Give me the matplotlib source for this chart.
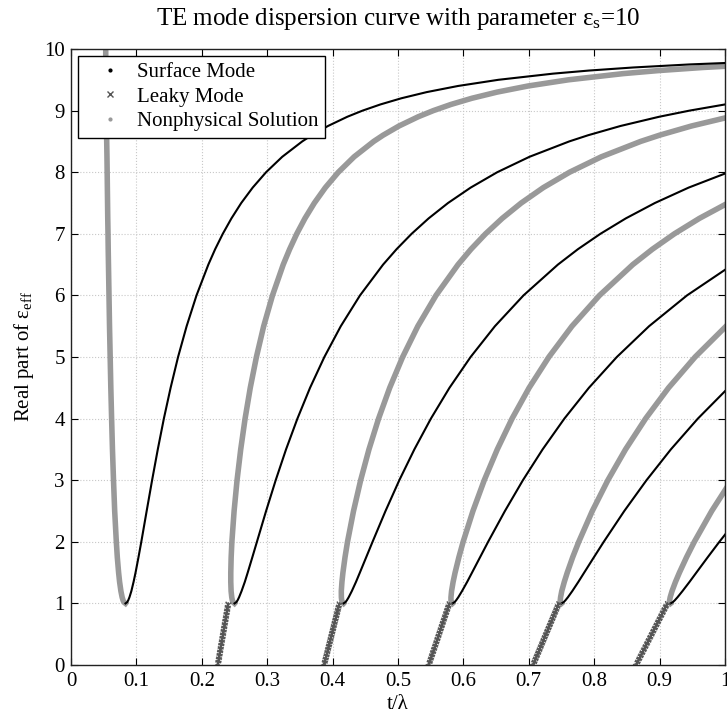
import matplotlib
matplotlib.use('Agg')
import matplotlib.pyplot as plt
import matplotlib.patheffects as pe
from matplotlib.lines import Line2D

plt.rcParams['font.family'] = ['Liberation Serif', 'DejaVu Serif']
plt.rcParams['font.size'] = 15
plt.rcParams['mathtext.fontset'] = 'custom'
plt.rcParams['mathtext.rm'] = 'Liberation Serif'
plt.rcParams['mathtext.it'] = 'Liberation Serif:italic'

eps_eff = [1.0, 1.02, 1.05, 1.1, 1.2, 1.35, 1.5, 1.75, 2.0, 2.5, 3.0, 3.5, 4.0, 4.5, 5.0, 5.5, 6.0,
           6.5, 6.75, 7.0, 7.25, 7.5, 7.75, 8.0, 8.25, 8.5, 8.6, 8.75, 8.9, 9.0, 9.1, 9.2, 9.3, 9.4,
           9.5, 9.6, 9.65, 9.7, 9.75, 9.8, 9.85, 9.9, 10.0]

# surface modes (t/lambda), black lines
surf_0 = [.0833, .0859, .0875, .0894, .0923, .0957, .0987, .1032, .1075, .1157, .1240, .1327, .1420,
          .1523, .1637, .1768, .1919, .2100, .2204, .2321, .2453, .2603, .2778, .2983, .3230, .3536,
          .3681, .3929, .4225, .4459, .4731, .5051, .5438, .5919, .6535, .7371, .7918, .8596, .9467,
          1.0648]
surf_1 = [.2500, .2528, .2547, .2570, .2608, .2658, .2702, .2773, .2843, .2983, .3130, .3288, .3462,
          .3655, .3874, .4125, .4419, .4772, .4978, .5208, .5468, .5765, .6111, .6518, .7010, .7619,
          .7907, .8401, .8993, .9459, 1.0001]
surf_2 = [.4167, .4196, .4218, .4246, .4294, .4358, .4417, .4514, .4611, .4809, .5020, .5250, .5503,
          .5787, .6110, .6482, .6919, .7445, .7751, .8095, .8483, .8928, .9444, 1.0054]
surf_3 = [.5833, .5865, .5889, .5922, .5979, .6058, .6132, .6255, .6378, .6635, .6910, .7211, .7544,
          .7919, .8346, .8839, .9419, 1.0118]
surf_4 = [.7500, .7533, .7560, .7598, .7665, .7758, .7847, .7996, .8146, .8460, .8800, .9172, .9585,
          1.0051]
surf_5 = [.9167, .9202, .9232, .9274, .9350, .9458, .9562, .9736, .9914, 1.0286]

# nonphysical solutions (t/lambda), thick grey lines
nonphys_0 = [.0833, .0809, .0796, .0782, .0763, .0743, .0728, .0708, .0693, .0668, .0650, .0634, .0621,
             .0609, .0599, .0589, .0581, .0573, .0569, .0566, .0562, .0559, .0556, .0553, .0550, .0546,
             .0545, .0543, .0542, .0541, .0540, .0539, .0538, .0536, .0536, .0534, .0534, .0533, .0533,
             .0532, .0532, .0531, .0531]
nonphys_1 = [.2500, .2478, .2467, .2458, .2448, .2443, .2443, .2449, .2460, .2494, .2539, .2595, .2662,
             .2741, .2835, .2946, .3081, .3245, .3343, .3452, .3577, .3721, .3889, .4088, .4329, .4629,
             .4771, .5015, .5309, .5541, .5810, .6129, .6514, .6991, .7607, .8440, .8986, .9662, 1.0533]
nonphys_2 = [.4167, .4146, .4139, .4134, .4133, .4143, .4158, .4190, .4228, .4320, .4429, .4556, .4703,
             .4873, .5071, .5303, .5581, .5918, .6116, .6339, .6593, .6884, .7222, .7624, .8109, .8711,
             .8997, .9487, 1.0077]
nonphys_3 = [.5833, .5815, .5810, .5810, .5819, .5843, .5873, .5931, .5996, .6146, .6319, .6518, .6744,
             .7005, .7307, .7660, .8081, .8590, .8890, .9226, .9608, 1.0046]
nonphys_4 = [.7500, .7483, .7481, .7486, .7504, .7543, .7588, .7671, .7764, .7971, .8209, .8479, .8786,
             .9137, .9543, 1.0017]
nonphys_5 = [.9167, .9152, .9153, .9162, .9190, .9243, .9303, .9412, .9531, .9797, 1.0099]

# leaky modes: t/lambda at Re(eps_eff)=0 and at Re(eps_eff)=1
leaky_eps = [0.0, 1.0]
leaky_start = [0.2245, 0.387, 0.547, 0.7065, 0.864]
leaky_end = [0.2405, 0.4105, 0.5785, 0.746, 0.912]

x_ticks = [0, 0.1, 0.2, 0.3, 0.4, 0.5, 0.6, 0.7, 0.8, 0.9, 1]
x_tick_labels = ['0', '0.1', '0.2', '0.3', '0.4', '0.5', '0.6', '0.7', '0.8', '0.9', '1']
y_ticks = list(range(0, 11))

surface_modes = [surf_0, surf_1, surf_2, surf_3, surf_4, surf_5]
nonphys_modes = [nonphys_0, nonphys_1, nonphys_2, nonphys_3, nonphys_4, nonphys_5]

fig = plt.figure(figsize=(7.27, 7.14), dpi=100)
ax = fig.add_axes([71 / 727, 49 / 714, 654 / 727, 616 / 714])

for t in nonphys_modes:
    ax.plot(t, eps_eff[:len(t)], color='#999999', lw=4, solid_joinstyle='round', zorder=2)

for t in surface_modes:
    ax.plot(t, eps_eff[:len(t)], color='k', lw=1.5, zorder=3)

# chain of small crosses along each leaky branch
cross = [pe.withTickedStroke(angle=a, spacing=2.4, length=1.0) for a in (45, -135, 135, -45)]
for t0, t1 in zip(leaky_start, leaky_end):
    ax.plot([t0, t1], leaky_eps, color='#555555', lw=1.0, zorder=4, path_effects=cross)

ax.set_xlim(0, 1)
ax.set_ylim(0, 10)
ax.set_xticks(x_ticks)
ax.set_xticklabels(x_tick_labels)
ax.set_yticks(y_ticks)
ax.grid(True, linestyle=':', color='#c8c8c8', linewidth=0.8)
ax.tick_params(direction='in', top=True, right=True, length=5, width=0.8)
ax.tick_params(axis='x', pad=5)
ax.tick_params(axis='y', pad=4.5)
for s in ax.spines.values():
    s.set_linewidth(1.0)
    s.set_color('#222222')

ax.set_title('TE mode dispersion curve with parameter $\\mathrm{ε_s}$=10', pad=17)
ax.set_xlabel('t/λ', labelpad=3)
ax.set_ylabel('Real part of $\\mathrm{ε_{eff}}$', labelpad=6)

handles = [Line2D([], [], ls='None', marker='.', color='k', ms=4),
           Line2D([], [], ls='None', marker='x', color='#555555', ms=5, mew=1),
           Line2D([], [], ls='None', marker='.', color='#999999', ms=4)]
labels = ['Surface Mode', 'Leaky Mode', 'Nonphysical Solution']
leg = ax.legend(handles, labels, loc='upper left', bbox_to_anchor=(0.0107, 0.9886), borderaxespad=0,
                fancybox=False, edgecolor='k', framealpha=1, handlelength=2.45, handletextpad=0.1,
                borderpad=0.3, labelspacing=0.25)
leg.get_frame().set_linewidth(1.0)

fig.savefig('out.png', dpi=100)
